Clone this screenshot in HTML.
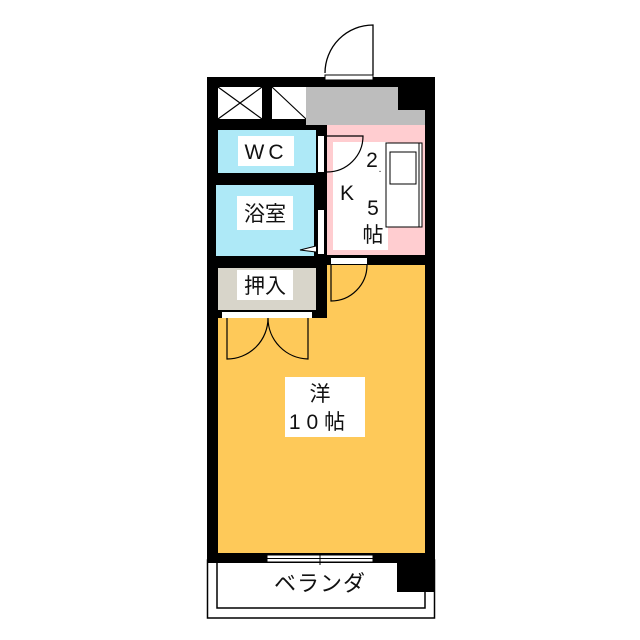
<!DOCTYPE html>
<html><head><meta charset="utf-8"><style>
html,body{margin:0;padding:0;background:#fff;width:640px;height:640px;overflow:hidden}
text{font-family:"Liberation Sans","Noto Sans CJK JP",sans-serif;fill:#111}
</style></head><body>
<svg width="640" height="640" viewBox="0 0 640 640" xmlns="http://www.w3.org/2000/svg">
<!-- veranda -->
<rect x="207.5" y="560" width="227" height="58" fill="#fff" stroke="#000" stroke-width="1.5"/>
<path d="M217 560 V608 H425 V560" fill="none" stroke="#000" stroke-width="1.5"/>
<!-- outer black mass -->
<rect x="207" y="77" width="228" height="486" fill="#000"/>
<!-- closets top -->
<rect x="218" y="87" width="44" height="32" fill="#fff"/>
<rect x="272" y="87" width="34" height="32" fill="#fff"/>
<path d="M218 87 L262 119 M262 87 L218 119 M272 87 L306 119" stroke="#000" stroke-width="1.2"/>
<!-- gray entrance -->
<rect x="306" y="87" width="92" height="38" fill="#bdbdbd"/>
<rect x="398" y="110" width="27" height="15" fill="#bdbdbd"/>
<!-- WC -->
<rect x="218" y="130" width="98" height="43" fill="#aee9f7"/>
<!-- bath -->
<rect x="216" y="185" width="98" height="71" fill="#aee9f7"/>
<!-- kitchen -->
<rect x="327" y="125" width="98" height="130" fill="#ffcdd0"/>
<rect x="333" y="142" width="55" height="108" fill="#fff"/>
<rect x="386" y="143" width="36" height="84" fill="#fff" stroke="#000" stroke-width="1"/>
<line x1="419" y1="143" x2="419" y2="227" stroke="#000" stroke-width="1"/>
<rect x="390" y="152" width="26" height="32" fill="#fff" stroke="#000" stroke-width="1"/>
<!-- oshiire -->
<rect x="218" y="268" width="98" height="42" fill="#d8d5ca"/>
<rect x="222" y="312" width="90" height="6" fill="#fff"/>
<!-- western room -->
<rect x="218" y="318" width="207" height="235" fill="#fec959"/>
<rect x="327" y="265" width="98" height="53" fill="#fec959"/>
<!-- entrance door -->
<rect x="325" y="75" width="48" height="5" fill="#fff" stroke="#000" stroke-width="1"/>
<path d="M373 75 V25 A48 48 0 0 0 325 73" fill="none" stroke="#000" stroke-width="1.3"/>
<!-- WC door -->
<rect x="318" y="136" width="6" height="36" fill="#fff"/>
<path d="M327 172 A36 36 0 0 0 363 136 H327" fill="none" stroke="#000" stroke-width="1.2"/>
<!-- bath door -->
<rect x="318" y="210" width="6" height="44" fill="#fff"/>
<path d="M316 246 L300 250 L316 252" fill="#fff" stroke="#000" stroke-width="1"/>
<!-- kitchen/room door -->
<rect x="331" y="258" width="36" height="6" fill="#fff"/>
<path d="M331 265 V301 A36 36 0 0 0 367 265" fill="none" stroke="#000" stroke-width="1.2"/>
<!-- closet doors -->
<path d="M227 318 V359 A41 41 0 0 0 268 318 M308 318 V359 A41 41 0 0 1 268 318" fill="none" stroke="#000" stroke-width="1.2"/>
<!-- window -->
<rect x="267" y="555" width="106" height="7" fill="#fff" stroke="#000" stroke-width="1"/>
<line x1="267" y1="558.5" x2="373" y2="558.5" stroke="#000" stroke-width="1"/>
<line x1="320" y1="553" x2="320" y2="565" stroke="#000" stroke-width="1"/>
<!-- veranda black block -->
<rect x="397" y="560" width="38" height="32" fill="#000"/>
<!-- labels -->
<rect x="238" y="136" width="56" height="30" fill="#fff"/>
<text x="266" y="159" font-size="21" text-anchor="middle" letter-spacing="4">WC</text>
<rect x="237" y="196" width="56" height="34" fill="#fff"/>
<text x="265" y="221" font-size="21" text-anchor="middle">浴室</text>
<rect x="237" y="270" width="56" height="30" fill="#fff"/>
<text x="265" y="293" font-size="21" text-anchor="middle">押入</text>
<text x="372" y="167" font-size="21" text-anchor="middle">2</text>
<text x="380" y="172" font-size="10" text-anchor="middle">.</text>
<text x="347" y="200" font-size="21" text-anchor="middle">K</text>
<text x="373" y="215" font-size="21" text-anchor="middle">5</text>
<text x="373" y="242" font-size="21" text-anchor="middle">帖</text>
<rect x="285" y="377" width="80" height="60" fill="#fff"/>
<text x="320" y="401" font-size="21" text-anchor="middle">洋</text>
<text x="320" y="429" font-size="21" text-anchor="middle" letter-spacing="6">10帖</text>
<text x="320" y="591" font-size="22" text-anchor="middle" letter-spacing="1">ベランダ</text>
</svg>
</body></html>
